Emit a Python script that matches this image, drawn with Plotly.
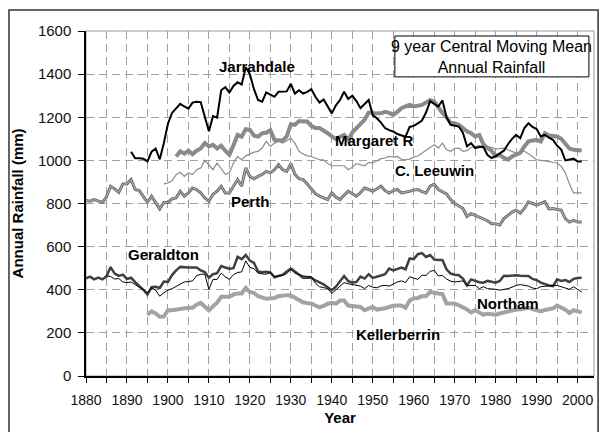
import plotly.graph_objects as go

# 9 year central moving mean of annual rainfall (mm)
jarrahdale_start = 1891
jarrahdale = [1040, 1010, 1010, 1008, 995, 1040, 1055, 1005, 1080, 1170,
              1220, 1240, 1262, 1250, 1240, 1268, 1272, 1270, 1200, 1135,
              1205, 1198, 1325, 1340, 1315, 1345, 1362, 1352, 1432, 1400,
              1330, 1280, 1272, 1315, 1305, 1295, 1318, 1320, 1320, 1355,
              1310, 1325, 1310, 1318, 1330, 1295, 1268, 1282, 1250, 1218,
              1255, 1280, 1318, 1285, 1300, 1275, 1242, 1262, 1280, 1210,
              1195, 1175, 1150, 1140, 1134, 1122, 1115, 1110, 1155, 1160,
              1172, 1185, 1222, 1275, 1262, 1250, 1278, 1200, 1165, 1160,
              1157, 1128, 1065, 1080, 1057, 1062, 1062, 1025, 1011, 1020,
              1031, 1045, 1075, 1100, 1118, 1103, 1150, 1172, 1155, 1145,
              1111, 1118, 1105, 1095, 1068, 1050, 1000, 1003, 1008, 995,
              995]

margaret_start = 1902
margaret = [1018, 1042, 1031, 1045, 1029, 1045, 1055, 1080, 1065,
            1072, 1055, 1068, 1045, 1026, 1070, 1118, 1110, 1145, 1142,
            1115, 1110, 1126, 1128, 1140, 1095, 1092, 1092, 1111, 1168,
            1165, 1182, 1180, 1180, 1160, 1150, 1150, 1140, 1126, 1111,
            1098, 1108, 1118, 1095, 1130, 1150, 1170, 1188, 1222, 1218,
            1218, 1218, 1225, 1220, 1211, 1225, 1242, 1250, 1257, 1250,
            1252, 1257, 1268, 1280, 1272, 1245, 1220, 1200, 1175, 1172,
            1165, 1150, 1135, 1126, 1111, 1118, 1075, 1057, 1045, 1020,
            1026, 1012, 1003, 1018, 1026, 1035, 1065, 1088, 1092, 1095,
            1088, 1126, 1115, 1111, 1111, 1100, 1080, 1055, 1049, 1046, 1046]

leeuwin_start = 1899
leeuwin = [891, 895,
           905, 934, 945, 926, 942, 934, 957, 965, 1000, 980,
           957, 988, 960, 935, 942, 988, 1018, 1003, 1021, 1030,
           1038, 1042, 1057, 1088, 1065, 1080, 1088, 1080, 1090, 1103,
           1080, 1042, 1030, 1021, 1018, 1010, 1003, 1003, 985, 975,
           975, 972, 975, 957, 968, 985, 980, 975, 991, 988,
           998, 1008, 1011, 1018, 1015, 1018, 1005, 1003, 1006, 1015,
           1020, 1034, 1049, 1060, 1072, 1057, 1080, 1049, 1042, 1055,
           1057, 1042, 1045, 1060, 1065, 1068, 1066, 1065, 1060, 1052,
           1055, 1057, 1049, 1042, 1034, 1040, 1042, 1031, 1015, 1003,
           1000, 998, 995, 990, 988, 972, 942, 890, 849, 849, 849]

perth_start = 1880
perth = [814, 811, 818, 811, 805, 830, 880, 868, 852, 890, 890,
         911, 865, 860, 830, 805, 834, 803, 775, 805, 805,
         822, 826, 857, 834, 849, 872, 865, 850, 826, 811,
         842, 857, 880, 849, 849, 880, 911, 880, 965, 926,
         915, 926, 935, 949, 942, 957, 980, 957, 949, 985,
         935, 915, 911, 890, 865, 845, 834, 825, 818, 849,
         830, 818, 840, 857, 845, 834, 850, 872, 865, 857,
         868, 880, 860, 849, 860, 865, 849, 852, 857, 862,
         865, 855, 849, 880, 890, 865, 855, 845, 818, 800,
         788, 777, 740, 753, 745, 737, 730, 720, 706, 706,
         700, 730, 745, 760, 769, 755, 777, 808, 800, 792,
         800, 808, 775, 777, 772, 769, 730, 714, 722, 714, 714]

geraldton_start = 1880
geraldton = [453, 461, 448, 456, 448, 462, 505, 475, 464, 470, 450,
             456, 435, 418, 400, 378, 412, 414, 408, 438, 436,
             468, 490, 506, 503, 503, 503, 503, 490, 482, 456,
             472, 477, 510, 503, 498, 500, 553, 542, 561, 535,
             525, 485, 481, 483, 480, 458, 465, 470, 485, 498,
             485, 470, 456, 456, 456, 443, 435, 425, 412, 398,
             414, 441, 464, 440, 434, 436, 461, 452, 472, 455,
             462, 466, 472, 498, 490, 495, 503, 495, 545, 542,
             565, 570, 552, 561, 540, 538, 538, 495, 475, 470,
             467, 452, 420, 448, 441, 435, 433, 441, 437, 433,
             441, 465, 464, 466, 467, 465, 464, 464, 450, 445,
             433, 425, 420, 417, 448, 441, 445, 436, 450, 455, 456]

northam_start = 1885
northam = [464, 461, 450, 452, 436, 433,
           436, 425, 414, 400, 386, 409, 398, 370, 386, 398,
           405, 415, 425, 436, 438, 441, 465, 472, 472, 402,
           448, 448, 477, 460, 448, 470, 480, 483, 534, 503,
           498, 477, 474, 472, 480, 461, 464, 466, 475, 495,
           477, 470, 464, 462, 461, 430, 414, 410, 405, 383,
           400, 415, 433, 428, 425, 420, 417, 405, 420, 412,
           409, 418, 420, 417, 428, 436, 441, 433, 460, 455,
           448, 467, 467, 485, 490, 464, 467, 450, 440, 436,
           440, 441, 420, 420, 420, 405, 414, 405, 404, 402,
           398, 400, 405, 412, 420, 424, 422, 417, 408, 405,
           414, 417, 420, 420, 420, 414, 408, 402, 414, 400, 389]

kellerberrin_start = 1895
kellerberrin = [284, 300, 290, 275, 276, 305,
                305, 308, 311, 316, 316, 316, 331, 339, 322, 305,
                323, 340, 367, 367, 367, 378, 383, 383, 409, 389,
                386, 370, 362, 358, 360, 362, 370, 374, 375, 373,
                362, 352, 342, 338, 336, 327, 318, 325, 335, 339,
                336, 350, 350, 327, 324, 322, 320, 305, 315, 320,
                308, 310, 314, 320, 326, 327, 327, 316, 350, 360,
                362, 370, 370, 390, 385, 383, 380, 336, 336, 336,
                328, 320, 308, 295, 305, 295, 284, 289, 287, 284,
                290, 295, 300, 305, 308, 310, 313, 316, 310, 305,
                300, 306, 311, 314, 327, 318, 308, 292, 305, 300, 295]

# station labels placed on the chart: (text, year, rainfall)
labels = [("Jarrahdale", 1921.7, 1434), ("Margaret R", 1950.5, 1090),
          ("C. Leeuwin", 1965.1, 951), ("Perth", 1920.0, 809),
          ("Geraldton", 1898.9, 562), ("Northam", 1982.9, 336),
          ("Kellerberrin", 1956.2, 192)]

FONT = "Liberation Sans, Arial, sans-serif"


def years(start, values):
    return list(range(start, start + len(values)))


fig = go.Figure()


def add_line(start, values, color, width):
    fig.add_trace(go.Scatter(x=years(start, values), y=values, mode="lines",
                             line=dict(color=color, width=width),
                             showlegend=False, hoverinfo="x+y"))


# draw order: thick grey ones under the thin ones
add_line(kellerberrin_start, kellerberrin, "#a3a3a3", 4)
add_line(margaret_start, margaret, "#8a8a8a", 4)
add_line(perth_start, perth, "#6f6f6f", 3)
add_line(perth_start, perth, "#b4b4b4", 1)
add_line(leeuwin_start, leeuwin, "#8c8c8c", 1.2)
add_line(geraldton_start, geraldton, "#404040", 2.5)
add_line(northam_start, northam, "#000000", 1)
add_line(jarrahdale_start, jarrahdale, "#000000", 2)

for text, x, y in labels:
    fig.add_annotation(x=x, y=y, text="<b>%s</b>" % text, showarrow=False,
                       font=dict(family=FONT, size=15, color="#000000"))

# legend-like title box (white box hides the grid behind it)
fig.add_shape(type="rect", xref="paper", yref="paper", x0=0.608, x1=0.990,
              y0=0.867, y1=0.9855, line=dict(color="#000000", width=1),
              fillcolor="white", layer="above")
fig.add_annotation(xref="paper", yref="paper", x=0.799, y=0.926,
                   xanchor="center", yanchor="middle",
                   text="9 year Central Moving Mean<br>Annual Rainfall",
                   showarrow=False, font=dict(family=FONT, size=16, color="#000000"))

# y axis title as a rotated annotation so it sits where the original has it
fig.add_annotation(xref="paper", yref="paper", x=-0.134, y=0.5,
                   xanchor="center", yanchor="middle", textangle=-90,
                   text="<b>Annual Rainfall (mm)</b>", showarrow=False,
                   font=dict(family=FONT, size=15, color="#000000"))

# plot area frame (grey) and outer chart frame (black)
fig.add_shape(type="rect", xref="paper", yref="paper", x0=0, x1=1, y0=0, y1=1,
              line=dict(color="#9a9a9a", width=1), layer="below")
fig.add_shape(type="rect", xref="paper", yref="paper", x0=-0.1516, x1=1.008,
              y0=-0.18, y1=1.0609, line=dict(color="#333333", width=1.5))

grid = dict(showgrid=True, gridcolor="#a0a0a0", gridwidth=1, griddash="8px,5px")

fig.update_xaxes(range=[1880, 2004], tickmode="linear", tick0=1880, dtick=10,
                 ticks="outside", ticklen=5, tickcolor="#000000",
                 showline=True, linecolor="#000000", linewidth=1.5,
                 zeroline=False, ticklabelstandoff=5, automargin=False,
                 tickfont=dict(family=FONT, size=14, color="#111111"),
                 minor=dict(dtick=5, tick0=1880, ticks="outside", ticklen=5,
                            tickcolor="#000000", **grid),
                 title=dict(text="<b>Year</b>", standoff=6,
                            font=dict(family=FONT, size=15, color="#000000")),
                 **grid)
fig.update_yaxes(range=[0, 1600], tickmode="linear", tick0=0, dtick=200,
                 ticks="outside", ticklen=6, tickcolor="#000000",
                 showline=True, linecolor="#000000", linewidth=1.5,
                 zeroline=False, ticklabelstandoff=4, automargin=False,
                 tickfont=dict(family=FONT, size=15, color="#111111"),
                 **grid)

fig.update_layout(width=599, height=432, margin=dict(l=86, r=5, t=31, b=56),
                  paper_bgcolor="white", plot_bgcolor="white")

# the page body has a default 8px margin; drop it so the chart fills the window
fig.write_html("out.html", config={"displayModeBar": False},
               post_script="document.body.style.margin='0';")
